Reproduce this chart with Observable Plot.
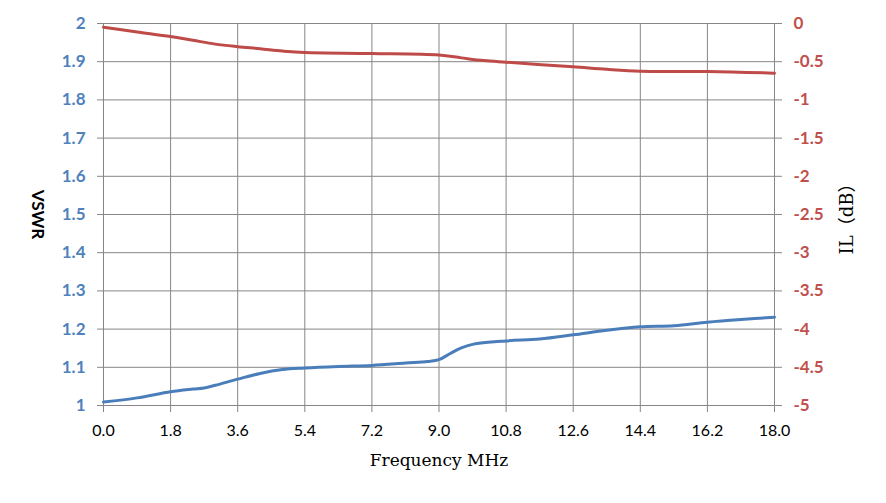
<!DOCTYPE html>
<html>
<head>
<meta charset="utf-8">
<script src="https://cdn.jsdelivr.net/npm/d3@7"></script>
<script src="https://cdn.jsdelivr.net/npm/@observablehq/plot@0.6"></script>
<style>
  body { margin: 0; background: #fff; }
</style>
</head>
<body>
<div id="chart"></div>
<script>
// Frequency (MHz) sample points and series values
const vswrFreq = [0, 0.9, 1.8, 2.4, 2.7, 3.0, 3.6, 4.2, 4.8, 5.4, 6.3, 7.2, 8.1, 8.7, 9.0, 9.3, 9.6, 9.9, 10.8, 11.7, 12.6, 13.5, 14.4, 15.3, 16.2, 17.1, 18.0];
const vswr = [1.009, 1.02, 1.036, 1.043, 1.046, 1.053, 1.069, 1.084, 1.094, 1.098, 1.102, 1.105, 1.111, 1.115, 1.12, 1.136, 1.151, 1.16, 1.169, 1.174, 1.185, 1.197, 1.206, 1.209, 1.218, 1.225, 1.231];

const ilFreq = [0, 0.9, 1.8, 2.4, 3.0, 3.6, 4.2, 4.8, 5.4, 7.2, 9.0, 9.6, 10.2, 10.8, 12.6, 13.5, 14.4, 16.2, 18.0];
const il = [-0.048, -0.11, -0.17, -0.22, -0.27, -0.303, -0.33, -0.36, -0.38, -0.393, -0.413, -0.45, -0.485, -0.507, -0.567, -0.60, -0.624, -0.628, -0.65];

const xTicks = [0, 1.8, 3.6, 5.4, 7.2, 9.0, 10.8, 12.6, 14.4, 16.2, 18.0];
const vswrTicks = [1, 1.1, 1.2, 1.3, 1.4, 1.5, 1.6, 1.7, 1.8, 1.9, 2];
const ilTicks = [-5, -4.5, -4, -3.5, -3, -2.5, -2, -1.5, -1, -0.5, 0];

// map IL (dB) onto the VSWR scale: 0 dB -> 2, -5 dB -> 1
const ilToV = d => 2 + d / 5;

const vswrData = vswrFreq.map((f, i) => ({f, v: vswr[i]}));
const ilData = ilFreq.map((f, i) => ({f, v: ilToV(il[i])}));
const ilAxisTicks = ilTicks.map(ilToV);
const ilLabel = new Map(ilTicks.map(t => [ilToV(t).toFixed(3), String(t)]));

const grid = "#868686";
const blue = "#4A7EBB";
const red = "#BE4B48";

const chart = Plot.plot({
  width: 886,
  height: 503,
  marginLeft: 103,
  marginRight: 112,
  marginTop: 23,
  marginBottom: 98,
  style: {fontFamily: "Lato, 'Open Sans', sans-serif", background: "#fff", overflow: "visible"},
  x: {domain: [0, 18]},
  y: {domain: [1, 2]},
  marks: [
    Plot.gridX(xTicks, {stroke: grid, strokeOpacity: 1, strokeWidth: 1}),
    Plot.gridY(vswrTicks, {stroke: grid, strokeOpacity: 1, strokeWidth: 1}),
    Plot.axisX(xTicks, {
      anchor: "bottom", tickSize: 7, tickPadding: 12, stroke: grid,
      tickFormat: d => d.toFixed(1), fill: "#000", fontSize: 16, label: null
    }),
    Plot.axisY(vswrTicks, {
      anchor: "left", tickSize: 6, tickPadding: 12, stroke: grid,
      tickFormat: d => String(+d.toFixed(1)), fill: "#4F81BD", fontWeight: "bold", fontSize: 17, label: null
    }),
    Plot.axisY(ilAxisTicks, {
      anchor: "right", tickSize: 7, tickPadding: 12, stroke: grid,
      tickFormat: d => ilLabel.get(d.toFixed(3)), fill: "#C0504D", fontWeight: "bold", fontSize: 17, label: null
    }),
    Plot.line(ilData, {x: "f", y: "v", stroke: red, strokeWidth: 3, curve: "catmull-rom"}),
    Plot.line(vswrData, {x: "f", y: "v", stroke: blue, strokeWidth: 3, curve: "catmull-rom"}),
    Plot.text(["VSWR"], {
      frameAnchor: "left", dx: -66, rotate: 90, fontWeight: "bold", fontSize: 17,
      fill: "#000", textAnchor: "middle", fontFamily: "Lato, sans-serif"
    }),
    Plot.text(["IL（dB）"], {
      frameAnchor: "right", dx: 73, rotate: -90, fontSize: 18,
      fill: "#000", textAnchor: "middle", fontFamily: "'DejaVu Serif', 'Noto Sans CJK SC', serif"
    }),
    Plot.text(["Frequency MHz"], {
      frameAnchor: "bottom", dy: 60, fontSize: 17, fill: "#000", textAnchor: "middle",
      fontFamily: "'DejaVu Serif', serif"
    })
  ]
});
document.getElementById("chart").appendChild(chart);
</script>
</body>
</html>
